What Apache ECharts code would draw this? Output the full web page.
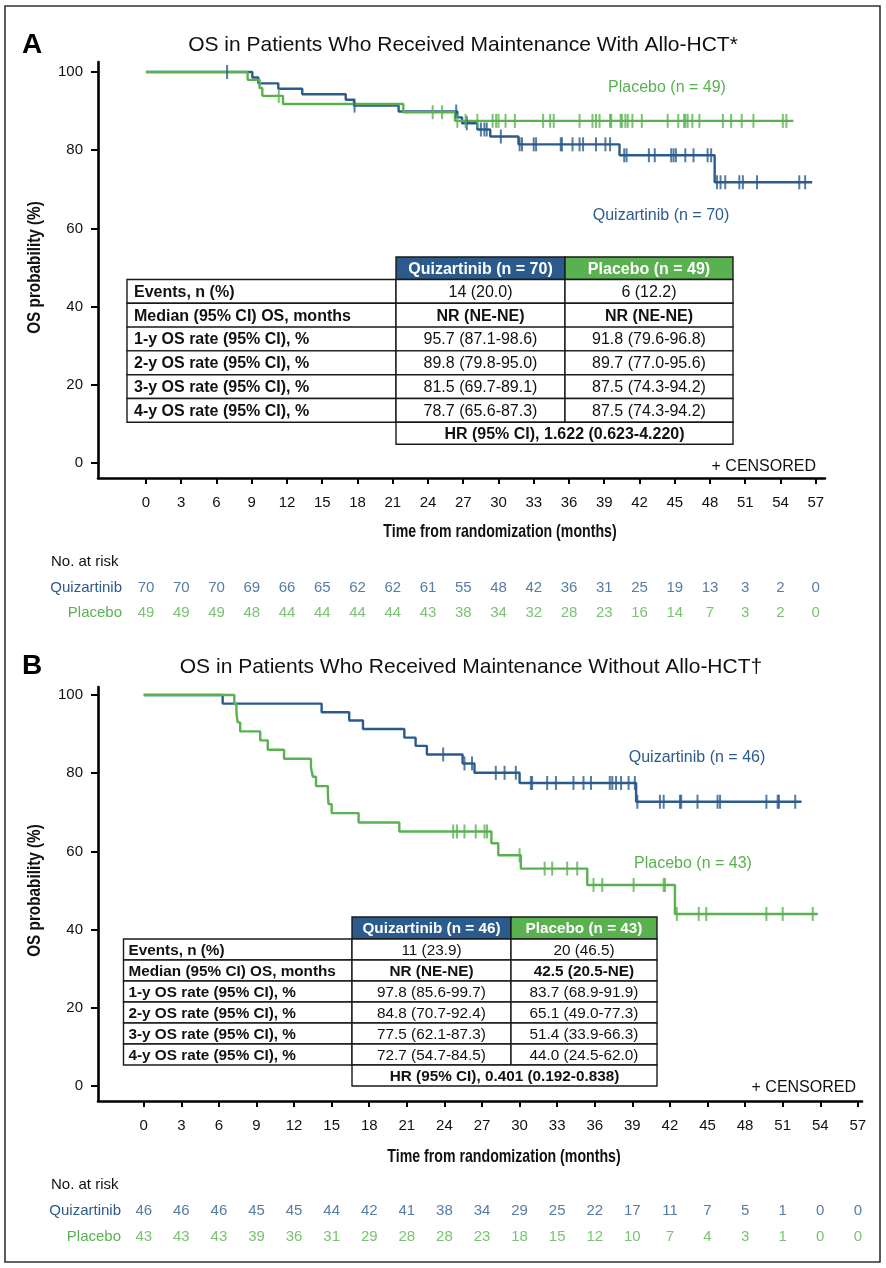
<!DOCTYPE html>
<html>
<head>
<meta charset="utf-8">
<script src="https://cdn.jsdelivr.net/npm/echarts@6/dist/echarts.min.js"></script>
<style>
html, body { margin: 0; padding: 0; background: #fff; }
#chart { width: 886px; height: 1268px; }
</style>
</head>
<body>
<div id="chart"></div>
<script>
// tick labels
var monthTicks = [0, 3, 6, 9, 12, 15, 18, 21, 24, 27, 30, 33, 36, 39, 42, 45, 48, 51, 54, 57];
var pctTicks = [0, 20, 40, 60, 80, 100];

// panel A: with allo-HCT  [month, OS %]
var aQuizSteps = [[0, 100], [9.05, 98.6], [9.56, 97.1], [11.26, 95.7], [13.3, 94.3], [17.0, 92.9], [17.7, 91.4],
  [21.5, 89.9], [26.5, 88.4], [26.9, 86.9], [28.2, 85.3], [29.3, 83.5], [31.7, 81.5], [40.3, 78.7], [48.4, 71.8], [56.7, 71.8]];
var aQuizCensor = [6.9, 17.75, 26.4, 27.3, 28.5, 28.8, 29.0, 30.2, 31.8, 32.0, 33.0, 33.2, 35.3, 35.4, 36.3, 36.9, 37.2,
  38.3, 39.1, 39.5, 40.7, 40.9, 42.8, 43.3, 44.7, 44.9, 45.1, 45.9, 46.6, 47.8, 48.1, 48.6, 48.9, 49.3, 50.5, 50.8,
  52.0, 55.6, 56.1];
var aPlaSteps = [[0, 100], [8.65, 98.0], [9.67, 95.9], [9.9, 93.9], [11.66, 91.8], [21.9, 89.7], [26.3, 87.5], [55.1, 87.5]];
var aPlaCensor = [11.3, 24.4, 25.2, 26.5, 27.2, 28.2, 29.5, 29.8, 30.0, 30.6, 31.4, 33.8, 34.4, 34.7, 36.9, 38.0, 38.3,
  38.6, 39.5, 39.6, 40.4, 40.5, 40.8, 41.0, 41.4, 42.2, 44.4, 45.3, 45.8, 45.9, 46.1, 46.5, 47.1, 49.1, 49.8, 50.7,
  51.7, 54.2, 54.5];
var aRiskQuiz = [70, 70, 70, 69, 66, 65, 62, 62, 61, 55, 48, 42, 36, 31, 25, 19, 13, 3, 2, 0];
var aRiskPla = [49, 49, 49, 48, 44, 44, 44, 44, 43, 38, 34, 32, 28, 23, 16, 14, 7, 3, 2, 0];

// panel B: without allo-HCT
var bQuizSteps = [[0, 100], [6.3, 97.8], [14.2, 95.6], [16.4, 93.5], [17.5, 91.3], [20.8, 89.1], [21.7, 87.0],
  [22.6, 84.8], [25.45, 82.5], [26.4, 80.1], [30.0, 77.5], [39.3, 72.7], [52.5, 72.7]];
var bQuizCensor = [23.9, 25.6, 26.2, 28.1, 28.8, 29.7, 30.9, 31.0, 32.2, 32.9, 34.3, 35.1, 35.7, 37.2, 37.4, 37.7,
  38.1, 38.7, 39.2, 39.4, 41.2, 41.5, 42.8, 42.9, 44.2, 45.8, 46.0, 49.7, 50.6, 50.7, 52.0];
var bPlaSteps = [[0, 100], [7.23, 97.7], [7.4, 95.3], [7.5, 93.0], [7.7, 90.7], [9.3, 88.4], [9.9, 86.0], [11.2, 83.7],
  [13.35, 81.4], [13.5, 79.1], [13.75, 76.7], [14.7, 74.4], [14.75, 72.1], [15.0, 69.8], [17.15, 67.4], [20.4, 65.1],
  [27.75, 62.1], [28.3, 59.0], [30.1, 55.6], [35.4, 51.4], [42.4, 44.0], [53.8, 44.0]];
var bPlaCensor = [24.7, 25.0, 25.6, 26.5, 27.2, 27.4, 30.0, 32.0, 32.6, 33.8, 34.6, 35.9, 36.6, 39.1, 41.5, 41.6,
  42.55, 44.3, 44.9, 49.7, 51.0, 53.4];
var bRiskQuiz = [46, 46, 46, 45, 45, 44, 42, 41, 38, 34, 29, 25, 22, 17, 11, 7, 5, 1, 0, 0];
var bRiskPla = [43, 43, 43, 39, 36, 31, 29, 28, 28, 23, 18, 15, 12, 10, 7, 4, 3, 1, 0, 0];

// summary tables
var tableRows = ['Events, n (%)', 'Median (95% CI) OS, months', '1-y OS rate (95% CI), %', '2-y OS rate (95% CI), %',
  '3-y OS rate (95% CI), %', '4-y OS rate (95% CI), %'];
var aTableQuiz = ['14 (20.0)', 'NR (NE-NE)', '95.7 (87.1-98.6)', '89.8 (79.8-95.0)', '81.5 (69.7-89.1)', '78.7 (65.6-87.3)'];
var aTablePla = ['6 (12.2)', 'NR (NE-NE)', '91.8 (79.6-96.8)', '89.7 (77.0-95.6)', '87.5 (74.3-94.2)', '87.5 (74.3-94.2)'];
var aHR = 'HR (95% CI), 1.622 (0.623-4.220)';
var bTableQuiz = ['11 (23.9)', 'NR (NE-NE)', '97.8 (85.6-99.7)', '84.8 (70.7-92.4)', '77.5 (62.1-87.3)', '72.7 (54.7-84.5)'];
var bTablePla = ['20 (46.5)', '42.5 (20.5-NE)', '83.7 (68.9-91.9)', '65.1 (49.0-77.3)', '51.4 (33.9-66.3)', '44.0 (24.5-62.0)'];
var bHR = 'HR (95% CI), 0.401 (0.192-0.838)';

var BLUE = '#2b5b8c';
var GREEN = '#5ab150';
var FONT = "'Liberation Sans', Arial, Helvetica, sans-serif";

// KM level at a censor time
function levelAt(steps, t) {
    var v = steps[0][1];
    steps.forEach(function (s) {
        if (s[0] <= t) v = s[1];
    });
    return v;
}

function txt(x, y, text, size, opts) {
    opts = opts || {};
    return {
        type: 'text', z: 50,
        rotation: opts.rotation || 0,
        scaleX: opts.scaleX || 1,
        x: x, y: y,
        style: {
            text: text,
            font: (opts.bold ? 'bold ' : '') + size + 'px ' + FONT,
            fill: opts.color || '#111',
            align: opts.align || 'left', verticalAlign: 'middle',
            textAlign: opts.align || 'left', textVerticalAlign: 'middle'
        }
    };
}

function cell(x, y, w, h, fill) {
    return {
        type: 'rect', z: 40,
        shape: { x: x, y: y, width: w, height: h },
        style: { fill: fill || '#fff', stroke: '#1a1a1a', lineWidth: 1.4 }
    };
}

// summary table drawn as graphic elements
function buildTable(g, t, quizHead, plaHead, quiz, pla, hr) {
    var out = [];
    var hh = t.rowTop - t.headTop;
    out.push(cell(t.c1, t.headTop, t.c2 - t.c1, hh, BLUE));
    out.push(cell(t.c2, t.headTop, t.right - t.c2, hh, GREEN));
    out.push(txt((t.c1 + t.c2) / 2, t.headTop + hh / 2 + 1, quizHead, t.font, { bold: true, color: '#fff', align: 'center' }));
    out.push(txt((t.c2 + t.right) / 2, t.headTop + hh / 2 + 1, plaHead, t.font, { bold: true, color: '#fff', align: 'center' }));
    tableRows.forEach(function (label, i) {
        var y = t.rowTop + i * t.rowH;
        var bold = (i === 1);
        out.push(cell(t.left, y, t.c1 - t.left, t.rowH));
        out.push(cell(t.c1, y, t.c2 - t.c1, t.rowH));
        out.push(cell(t.c2, y, t.right - t.c2, t.rowH));
        out.push(txt(t.left + t.pad, y + t.rowH / 2 + 1, label, t.font, { bold: true }));
        out.push(txt((t.c1 + t.c2) / 2, y + t.rowH / 2 + 1, quiz[i], t.font, { bold: bold, align: 'center' }));
        out.push(txt((t.c2 + t.right) / 2, y + t.rowH / 2 + 1, pla[i], t.font, { bold: bold, align: 'center' }));
    });
    var hy = t.rowTop + tableRows.length * t.rowH;
    out.push(cell(t.c1, hy, t.right - t.c1, t.hrH));
    out.push(txt((t.c1 + t.right) / 2, hy + t.hrH / 2 + 1, hr, t.font, { bold: true, align: 'center' }));
    return g.concat(out);
}

function plotX(idx, min, max) {
    return {
        type: 'value', gridIndex: idx, min: min, max: max,
        axisLine: { show: true, onZero: false, lineStyle: { color: '#000', width: 2.6 } },
        axisTick: { show: true, customValues: monthTicks, length: 6, lineStyle: { color: '#000', width: 2 } },
        axisLabel: { customValues: monthTicks, color: '#111', fontSize: 15, fontFamily: FONT, margin: 17 },
        splitLine: { show: false }
    };
}

function plotY(idx, min, max) {
    return {
        type: 'value', gridIndex: idx, min: min, max: max,
        axisLine: { show: true, onZero: false, lineStyle: { color: '#000', width: 2.6 } },
        axisTick: { show: true, customValues: pctTicks, length: 7, lineStyle: { color: '#000', width: 2 } },
        axisLabel: { customValues: pctTicks, color: '#111', fontSize: 15, fontFamily: FONT, margin: 15 },
        splitLine: { show: false }
    };
}

function hiddenX(idx, min, max) {
    return { type: 'value', gridIndex: idx, min: min, max: max, show: false };
}

function hiddenY(idx) {
    return { type: 'value', gridIndex: idx, min: -0.5, max: 1.5, show: false };
}

function kmSeries(axis, steps, censor, color) {
    return [{
        type: 'line', xAxisIndex: axis, yAxisIndex: axis, step: 'end',
        showSymbol: false, symbol: 'none', silent: true, z: color === GREEN ? 4 : 3,
        lineStyle: { color: color, width: 2.4 },
        data: steps
    }, {
        type: 'scatter', xAxisIndex: axis, yAxisIndex: axis, silent: true, z: 5,
        symbol: 'rect', symbolSize: [2, 14],
        itemStyle: { color: color },
        data: censor.map(function (t) { return [t, levelAt(steps, t)]; })
    }];
}

function riskSeries(axis, counts, row, color) {
    return {
        type: 'scatter', xAxisIndex: axis, yAxisIndex: axis, silent: true,
        symbolSize: 1, itemStyle: { color: 'rgba(0,0,0,0)' },
        label: {
            show: true, position: 'inside', color: color, fontSize: 15, fontFamily: FONT,
            formatter: function (p) { return String(p.value[2]); }
        },
        data: counts.map(function (n, i) { return [monthTicks[i], row, n]; })
    };
}

var graphics = [
    { type: 'rect', z: 1, shape: { x: 5, y: 6, width: 875, height: 1256 }, style: { fill: 'none', stroke: '#333', lineWidth: 1.6 } },
    txt(22, 45, 'A', 28, { bold: true, color: '#000' }),
    txt(463, 45, 'OS in Patients Who Received Maintenance With Allo-HCT*', 21, { align: 'center' }),
    txt(35, 267.5, 'OS probability (%)', 18, { bold: true, rotation: Math.PI / 2, scaleX: 0.85, align: 'center' }),
    txt(667, 88, 'Placebo (n = 49)', 16, { color: GREEN, align: 'center' }),
    txt(661, 216, 'Quizartinib (n = 70)', 16, { color: BLUE, align: 'center' }),
    txt(816, 467, '+ CENSORED', 16, { align: 'right' }),
    txt(500, 532, 'Time from randomization (months)', 18.5, { align: 'center', bold: true, scaleX: 0.765 }),
    txt(51, 562, 'No. at risk', 15),
    txt(122, 588, 'Quizartinib', 15, { color: BLUE, align: 'right' }),
    txt(122, 613, 'Placebo', 15, { color: GREEN, align: 'right' }),

    txt(22, 666, 'B', 28, { bold: true, color: '#000' }),
    txt(471, 667, 'OS in Patients Who Received Maintenance Without Allo-HCT\u2020', 21, { align: 'center' }),
    txt(35, 890.5, 'OS probability (%)', 18, { bold: true, rotation: Math.PI / 2, scaleX: 0.85, align: 'center' }),
    txt(697, 758, 'Quizartinib (n = 46)', 16, { color: BLUE, align: 'center' }),
    txt(693, 864, 'Placebo (n = 43)', 16, { color: GREEN, align: 'center' }),
    txt(856, 1088, '+ CENSORED', 16, { align: 'right' }),
    txt(504, 1157, 'Time from randomization (months)', 18.5, { align: 'center', bold: true, scaleX: 0.765 }),
    txt(51, 1185, 'No. at risk', 15),
    txt(121, 1211, 'Quizartinib', 15, { color: BLUE, align: 'right' }),
    txt(121, 1237, 'Placebo', 15, { color: GREEN, align: 'right' })
];

graphics = buildTable(graphics,
    { left: 127, c1: 396, c2: 565, right: 733, headTop: 257, rowTop: 279.5, rowH: 23.8, hrH: 22, font: 16, pad: 7 },
    'Quizartinib (n = 70)', 'Placebo (n = 49)', aTableQuiz, aTablePla, aHR);
graphics = buildTable(graphics,
    { left: 123.5, c1: 352, c2: 511, right: 657, headTop: 917, rowTop: 939, rowH: 21, hrH: 21, font: 15.3, pad: 5 },
    'Quizartinib (n = 46)', 'Placebo (n = 43)', bTableQuiz, bTablePla, bHR);

var chart = echarts.init(document.getElementById('chart'), null, { renderer: 'canvas' });

var option = {
    backgroundColor: '#fff',
    animation: false,
    grid: [
        { left: 98, top: 62, width: 727, height: 416 },
        { left: 98, top: 575, width: 727, height: 51 },
        { left: 98, top: 687, width: 764, height: 414 },
        { left: 98, top: 1198.5, width: 764, height: 51 }
    ],
    xAxis: [
        plotX(0, -4.085, 57.79),
        hiddenX(1, -4.085, 57.79),
        plotX(2, -3.65, 57.33),
        hiddenX(3, -3.65, 57.33)
    ],
    yAxis: [
        plotY(0, -3.84, 102.56),
        hiddenY(1),
        plotY(2, -3.84, 102.05),
        hiddenY(3)
    ],
    graphic: { elements: graphics },
    series: [].concat(
        kmSeries(0, aQuizSteps, aQuizCensor, BLUE),
        kmSeries(0, aPlaSteps, aPlaCensor, GREEN),
        [riskSeries(1, aRiskQuiz, 1, BLUE), riskSeries(1, aRiskPla, 0, GREEN)],
        kmSeries(2, bQuizSteps, bQuizCensor, BLUE),
        kmSeries(2, bPlaSteps, bPlaCensor, GREEN),
        [riskSeries(3, bRiskQuiz, 1, BLUE), riskSeries(3, bRiskPla, 0, GREEN)]
    )
};

chart.setOption(option);
</script>
</body>
</html>
